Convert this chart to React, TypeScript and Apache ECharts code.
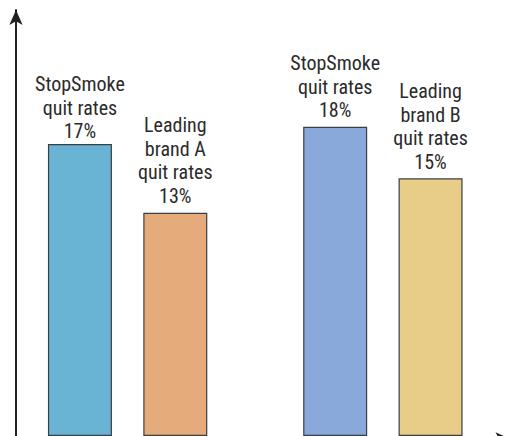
import React, { useEffect, useRef } from "react";
import * as echarts from "echarts";

const categories = ["A", "B"];
const stopSmokeRates = [17, 18];
const leadingBrandRates = [13, 15];
const brandLetters = ["A", "B"];
const stopSmokeColors = ["#69b3d4", "#88a9d9"];
const leadingColors = ["#e5ab7b", "#e8cd88"];
const stopSmokeLabelGap = [1, 5];

const FONT = "'Roboto Condensed', 'Roboto', 'Liberation Sans', sans-serif";

export default function App() {
  const ref = useRef<HTMLDivElement>(null);
  useEffect(() => {
    document.body.style.margin = "0";
    const chart = echarts.init(ref.current!, null, { renderer: "svg" });
    const labelStyle = {
      show: true,
      position: "top" as const,
      distance: 5,
      color: "#2b2b2b",
      fontSize: 20,
      lineHeight: 23.5,
      fontFamily: FONT,
      fontWeight: "normal" as const,
      align: "center" as const,
    };
    chart.setOption({
      animation: false,
      backgroundColor: "#ffffff",
      grid: { left: -1, right: 4.5, top: 10, bottom: 0, containLabel: false },
      xAxis: {
        type: "category",
        data: categories,
        offset: 3,
        axisLine: {
          show: true,
          onZero: false,
          symbol: ["none", "arrow"],
          symbolSize: [10, 15],
          lineStyle: { color: "#222", width: 2 },
        },
        axisTick: { show: false },
        axisLabel: { show: false },
        splitLine: { show: false },
      },
      yAxis: {
        type: "value",
        min: 0,
        max: 24.8,
        offset: -16,
        axisLine: {
          show: true,
          symbol: ["none", "arrow"],
          symbolSize: [10, 15],
          lineStyle: { color: "#222", width: 2 },
        },
        axisTick: { show: false },
        axisLabel: { show: false },
        splitLine: { show: false },
      },
      series: [
        {
          type: "bar",
          name: "StopSmoke",
          barWidth: 64,
          barGap: "49%",
          data: stopSmokeRates.map((v, i) => ({
            value: v,
            itemStyle: { color: stopSmokeColors[i], borderColor: "#3a3f44", borderWidth: 1.2 },
            label: { distance: stopSmokeLabelGap[i] },
          })),
          label: {
            ...labelStyle,
            formatter: (p: any) => `StopSmoke\nquit rates\n${p.value}%`,
          },
        },
        {
          type: "bar",
          name: "Leading brand",
          barWidth: 64,
          data: leadingBrandRates.map((v, i) => ({
            value: v,
            itemStyle: { color: leadingColors[i], borderColor: "#3a3f44", borderWidth: 1.2 },
          })),
          label: {
            ...labelStyle,
            formatter: (p: any) =>
              `Leading\nbrand ${brandLetters[p.dataIndex]}\nquit rates\n${p.value}%`,
          },
        },
      ],
    });
    return () => chart.dispose();
  }, []);
  return (
    <div
      ref={ref}
      style={{ position: "fixed", left: 0, top: 0, width: 515, height: 436 }}
    />
  );
}
